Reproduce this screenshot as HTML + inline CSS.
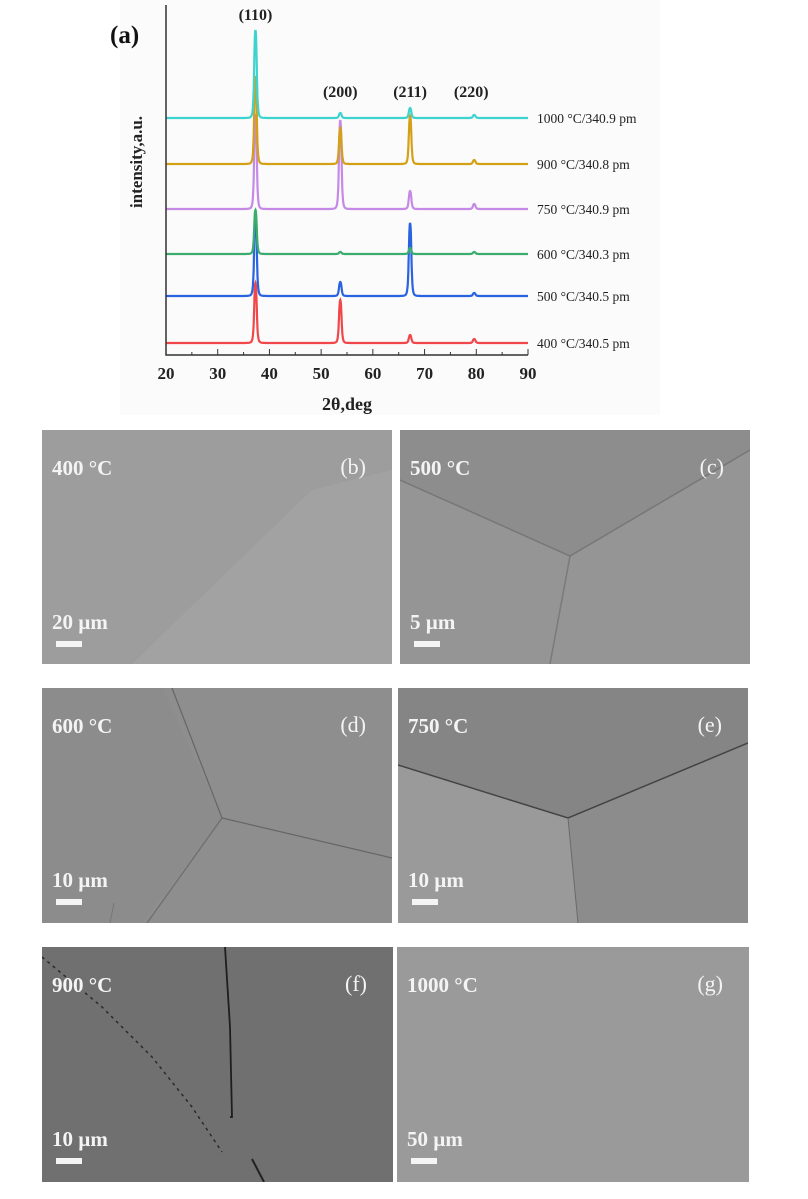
<!DOCTYPE html>
<html><head><meta charset="utf-8"><style>
body{margin:0;background:#fff;width:808px;height:1199px;position:relative;overflow:hidden;font-family:"Liberation Serif",serif}
.p{position:absolute;overflow:hidden}
.p svg{position:absolute;left:0;top:0}
.t{position:absolute;color:#f4f4f4;font-weight:bold;font-size:21px;top:26px;left:10px}
.l{position:absolute;color:#f4f4f4;font-size:22px;top:24px;right:26px}
.s{position:absolute;color:#f4f4f4;font-weight:bold;font-size:21px;left:10px;top:180px}
.b{position:absolute;background:#f4f4f4;height:6px;width:26px;left:14px;top:211px}
</style></head><body>
<svg id="chart" width="808" height="420" style="position:absolute;left:0;top:0"></svg>

<div class="p" style="left:42px;top:430px;width:350px;height:234px;background:#9d9d9d">
<svg width="350" height="234"><polygon points="90,234 270,60 350,40 350,234" fill="#a2a2a2"/></svg>
<div class="t">400 °C</div><div class="l">(b)</div><div class="s">20 µm</div><div class="b"></div></div>

<div class="p" style="left:400px;top:430px;width:350px;height:234px;background:#959595">
<svg width="350" height="234"><polygon points="0,50 170,126 350,20 350,0 0,0" fill="#8d8d8d"/><polyline points="0,50 170,126 350,20" stroke="#777" stroke-width="1.5" fill="none"/><line x1="170" y1="126" x2="150" y2="234" stroke="#7a7a7a" stroke-width="1.5"/></svg>
<div class="t">500 °C</div><div class="l">(c)</div><div class="s">5 µm</div><div class="b"></div></div>

<div class="p" style="left:42px;top:688px;width:350px;height:235px;background:#8e8e8e">
<svg width="350" height="235"><polygon points="0,235 0,0 120,0 180,130 100,235" fill="#8c8c8c"/><polyline points="130,0 180,130 350,170" stroke="#666" stroke-width="1.2" fill="none"/><polyline points="180,130 105,235" stroke="#6d6d6d" stroke-width="1.2" fill="none"/><line x1="68" y1="235" x2="72" y2="215" stroke="#777"/></svg>
<div class="t">600 °C</div><div class="l">(d)</div><div class="s">10 µm</div><div class="b"></div></div>

<div class="p" style="left:398px;top:688px;width:350px;height:235px;background:#858585">
<svg width="350" height="235"><polygon points="0,77 170,130 180,235 0,235" fill="#9a9a9a"/><polygon points="170,130 350,55 350,235 180,235" fill="#8c8c8c"/><polyline points="0,77 170,130 350,55" stroke="#444" stroke-width="1.5" fill="none"/><line x1="170" y1="130" x2="180" y2="235" stroke="#6a6a6a"/></svg>
<div class="t">750 °C</div><div class="l">(e)</div><div class="s">10 µm</div><div class="b"></div></div>

<div class="p" style="left:42px;top:947px;width:351px;height:235px;background:#707070">
<svg width="351" height="235"><polyline points="0,10 60,60 110,110 150,160 180,205" stroke="#2a2a2a" stroke-width="1.5" stroke-dasharray="3,4" fill="none"/><polyline points="183,0 188,80 190,170 188,170" stroke="#1e1e1e" stroke-width="1.8" fill="none"/><line x1="210" y1="212" x2="222" y2="235" stroke="#222" stroke-width="2"/></svg>
<div class="t">900 °C</div><div class="l">(f)</div><div class="s">10 µm</div><div class="b"></div></div>

<div class="p" style="left:397px;top:947px;width:352px;height:235px;background:#9a9a9a">
<div class="t">1000 °C</div><div class="l">(g)</div><div class="s">50 µm</div><div class="b"></div></div>

<script>
const peakPositions=[37.3,53.7,67.2,79.6];
const seriesLabels=["400 °C/340.5 pm","500 °C/340.5 pm","600 °C/340.3 pm","750 °C/340.9 pm","900 °C/340.8 pm","1000 °C/340.9 pm"];
const seriesColors=["#f0474b","#2a63e0","#3cab6e","#c58ae6","#d4a017","#3fd3cf"];
const baselineOffsets=[0,47,89,134,179,225];
const heights400=[60,43,8,4];
const heights500=[85,14,73,3];
const heights600=[44,2,6,2];
const heights750=[95,89,18,5];
const heights900=[88,36,48,4];
const heights1000=[88,5,10,3];
const allHeights=[heights400,heights500,heights600,heights750,heights900,heights1000];
const xTicks=[20,30,40,50,60,70,80,90];
const peakLabels=["(110)","(200)","(211)","(220)"];

const NS="http://www.w3.org/2000/svg";
const svg=document.getElementById("chart");
const X0=166,X1=528,Ybase=343,Yaxis=355;
const xs=v=>X0+(v-20)/70*(X1-X0);
const ys=v=>Ybase-v;
function mk(tag,attrs){const e=document.createElementNS(NS,tag);for(const k in attrs)e.setAttribute(k,attrs[k]);svg.appendChild(e);return e;}
const panel=mk("rect",{x:120,y:0,width:540,height:415,fill:"#fbfbfb"});


for(let s=0;s<allHeights.length;s++){
  let d="";
  for(let v=20;v<=90.001;v+=0.05){
    let y=baselineOffsets[s];
    allHeights[s].forEach((h,i)=>{const w=0.28;const dx=(v-peakPositions[i])/w;y+=h/(1+dx*dx*dx*dx*0.6+dx*dx*0.4);});
    d+=(d?"L":"M")+xs(v).toFixed(1)+","+ys(y).toFixed(1);
  }
  const p=mk("path",{d:d,fill:"none",stroke:seriesColors[s],"stroke-width":2.2});
  
  
  const t=mk("text",{x:537,y:ys(baselineOffsets[s])+5,"font-size":13.5,fill:"#222","font-family":"Liberation Serif, serif"});
  t.textContent=seriesLabels[s];
  
  
}
const ax=mk("path",{d:`M${X0},5 V${Yaxis} H${X1}`,fill:"none",stroke:"#333","stroke-width":1.5});


xTicks.forEach(v=>{
  const tk=mk("line",{x1:xs(v),x2:xs(v),y1:Yaxis,y2:Yaxis-6,stroke:"#333"});
  
  
  if(v<90){const mt=mk("line",{x1:xs(v+5),x2:xs(v+5),y1:Yaxis,y2:Yaxis-3,stroke:"#333"});
  
  }
  const t=mk("text",{x:xs(v),y:Yaxis+24,"text-anchor":"middle","font-size":17,"font-weight":"bold",fill:"#222"});
  t.textContent=v;
  
  
});
const labelY=[20,97,97,97];
peakLabels.forEach((l,i)=>{
  const t=mk("text",{x:xs(peakPositions[i])+(i==3?-3:0),y:labelY[i],"text-anchor":"middle","font-size":16,"font-weight":"bold",fill:"#222"});
  t.textContent=l;
  
  
});
const xt=mk("text",{x:347,y:410,"text-anchor":"middle","font-size":18,"font-weight":"bold",fill:"#222"});
xt.textContent="2θ,deg";


const yt=mk("text",{x:0,y:0,"text-anchor":"middle","font-size":17,"font-weight":"bold",fill:"#222",transform:"translate(142,162) rotate(-90)"});
yt.textContent="intensity,a.u.";


const pa=mk("text",{x:110,y:43,"font-size":25,"font-weight":"bold",fill:"#111"});
pa.textContent="(a)";


</script>
</body></html>
